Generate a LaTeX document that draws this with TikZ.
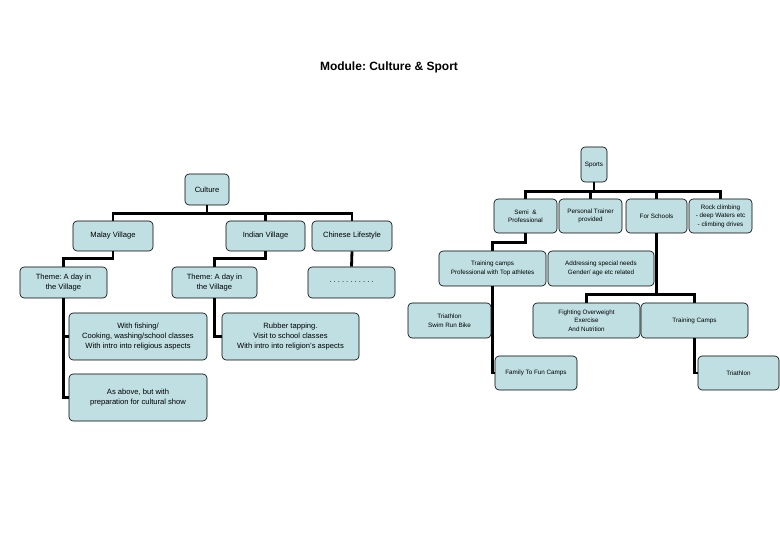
\documentclass[tikz,border=0pt]{standalone}
\usepackage{fontspec}
\setmainfont{Liberation Sans}
\usetikzlibrary{backgrounds}
\definecolor{boxblue}{HTML}{BFDFE3}
\frenchspacing
\begin{document}
\begin{tikzpicture}[
                x=1pt, y=-1pt,
                box/.style={draw, fill=boxblue, rounded corners=4pt, align=center,
                    inner sep=1pt, line width=0.6pt,
                    font=\fontsize{7.6}{10}\selectfont},
                sbox/.style={box, font=\fontsize{6.3}{8.5}\selectfont},
                link/.style={line width=2.8pt}
            ]
            \useasboundingbox (0,0) rectangle (780,540);
            % title
            \node[font=\bfseries\fontsize{12}{14}\selectfont] (title) at (389,67) {Module: Culture \& Sport};

            % culture branch
            \node[box, minimum width=44, minimum height=31] (culture) at (207,189.5) {Culture};
            \node[box, minimum width=80, minimum height=30] (malay) at (113,236) {Malay Village};
            \node[box, minimum width=79, minimum height=30] (indian) at (265.5,236) {Indian Village};
            \node[box, minimum width=80, minimum height=30] (chinese) at (352,236) {Chinese Lifestyle};
            \node[box, minimum width=87, minimum height=31] (thememalay) at (63.5,282.5) {Theme: A day in\\the Village};
            \node[box, minimum width=85, minimum height=31] (themeindian) at (214.5,282.5) {Theme: A day in\\the Village};
            \node[box, minimum width=87, minimum height=31] (dots) at (351.5,282.5) {. . . . . . . . . . .};
            \node[box, minimum width=138, minimum height=47] (fishing) at (138,336.5) {With fishing/\\Cooking, washing/school classes\\With intro into religious aspects};
            \node[box, minimum width=138, minimum height=47] (show) at (138,397.5) {As above, but with\\preparation for cultural show};
            \node[box, minimum width=137, minimum height=47] (rubber) at (290.5,336.5) {Rubber tapping.\\Visit to school classes\\With intro into religion's aspects};

            % sport branch
            \node[sbox, minimum width=26, minimum height=35] (sports) at (594,164.5) {Sports};
            \node[sbox, minimum width=63, minimum height=34] (semi) at (525.5,216) {Semi \ \&\\Professional};
            \node[sbox, minimum width=63, minimum height=34] (trainer) at (590.5,216) {Personal Trainer\\provided};
            \node[sbox, minimum width=61, minimum height=34] (schools) at (656.5,216) {For Schools};
            \node[sbox, minimum width=63, minimum height=34] (rock) at (720.5,216) {Rock climbing\\- deep Waters etc\\- climbing drives};
            \node[sbox, minimum width=107, minimum height=35] (training) at (492.5,268.5) {Training camps\\Professional with Top athletes};
            \node[sbox, minimum width=106, minimum height=35] (needs) at (601,268.5) {Addressing special needs\\Gender/ age etc related};
            \node[sbox, minimum width=83, minimum height=35] (triathlon) at (449.5,320.5) {Triathlon\\Swim Run Bike};
            \node[sbox, minimum width=107, minimum height=35] (overweight) at (586.5,320.5) {Fighting Overweight\\Exercise\\And Nutrition};
            \node[sbox, minimum width=107, minimum height=35] (camps) at (694.5,320.5) {Training Camps};
            \node[sbox, minimum width=82, minimum height=34] (family) at (536,373) {Family To Fun Camps};
            \node[sbox, minimum width=81, minimum height=34] (triathlonb) at (738.5,373) {Triathlon};

            \begin{pgfonlayer}{background}
            % connectors, culture
            \draw[link] (culture.south) -- ++(0,8) -| (malay.north);
            \draw[link] (culture.south) -- ++(0,8) -| (indian.north);
            \draw[link] (culture.south) -- ++(0,8) -| (chinese.north);
            \draw[link] (malay.south) -- ++(0,7) -| (thememalay.north);
            \draw[link] (indian.south) -- ++(0,7) -| (themeindian.north);
            \draw[link] (chinese.south) -- (dots.north);
            \draw[link] (thememalay.south) |- (fishing.west);
            \draw[link] (thememalay.south) |- (show.west);
            \draw[link] (themeindian.south) |- (rubber.west);

            % connectors, sport
            \draw[link] (sports.south) -- ++(0,9) -| (semi.north);
            \draw[link] (sports.south) -- ++(0,9) -| (trainer.north);
            \draw[link] (sports.south) -- ++(0,9) -| (schools.north);
            \draw[link] (sports.south) -- ++(0,9) -| (rock.north);
            \draw[link] (semi.south) -- ++(0,9) -| (training.north);
            \draw[link] (training.south) |- (triathlon.east);
            \draw[link] (training.south) |- (family.west);
            \draw[link] (schools.south) -- ++(0,61) -| (overweight.north);
            \draw[link] (schools.south) -- ++(0,61) -| (camps.north);
            \draw[link] (camps.south) |- (triathlonb.west);
            \end{pgfonlayer}
        \end{tikzpicture}
\end{document}
